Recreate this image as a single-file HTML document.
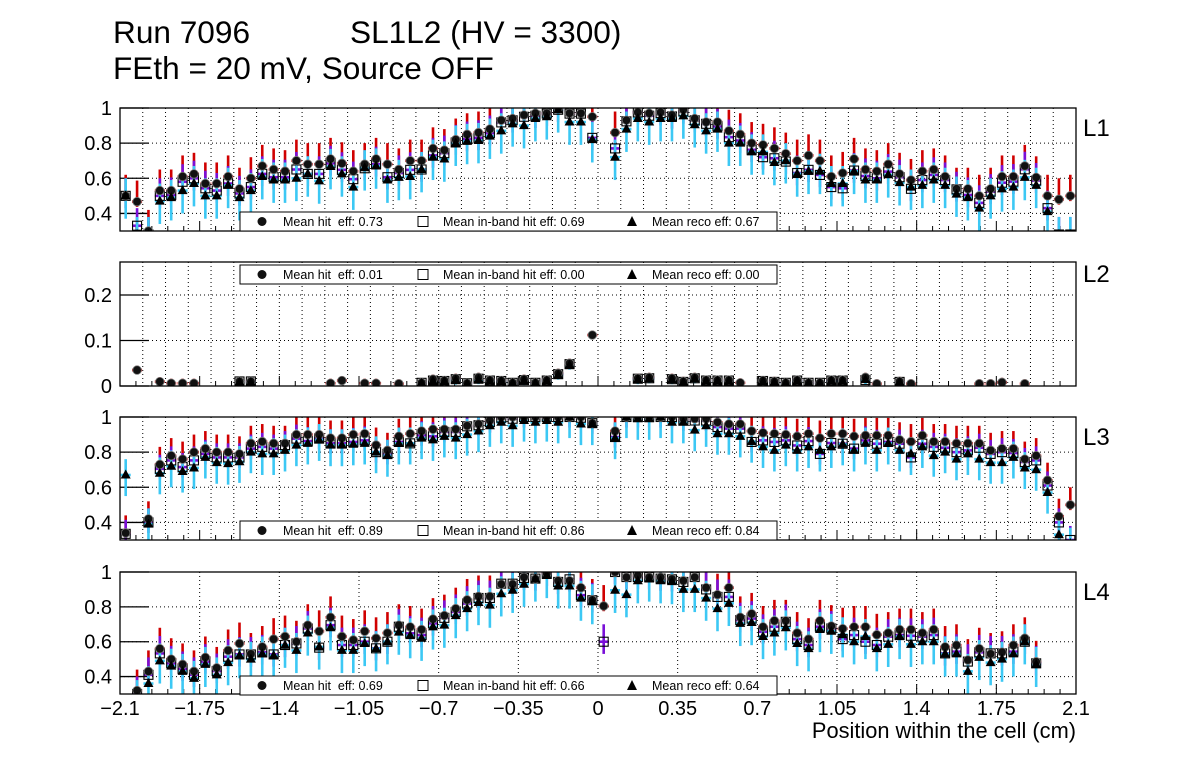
<!DOCTYPE html>
<html><head><meta charset="utf-8"><style>
html,body{margin:0;padding:0;background:#fff;}
svg{display:block;font-family:"Liberation Sans",Arial,sans-serif;}
</style></head><body>
<svg id="chart" width="1196" height="772" viewBox="0 0 1196 772">
<rect x="0" y="0" width="1196" height="772" fill="#fff"/>
<text x="113" y="43" font-size="31.6">Run 7096</text>
<text x="350" y="43" font-size="31.6">SL1L2 (HV = 3300)</text>
<text x="113" y="79" font-size="31.6">FEth = 20 mV, Source OFF</text>
<text x="1076" y="738" font-size="21.8" text-anchor="end">Position within the cell (cm)</text>
<g id="root"></g>
</svg>
<script>
const bins = Array.from({length:84},(_, i)=>-2.075+0.05*i);
const n=null;
const p1Hit=[.50,.467,.30,.53,.53,.61,.625,.57,.57,.61,.54,.60,.67,.65,.64,.70,.68,.68,.71,.685,.64,.68,.71,.68,.65,.70,.70,.77,.76,.82,.85,.86,.88,.93,.94,.96,.97,.97,1.0,.97,.97,.95,n,.86,.93,.975,.97,.975,.96,.99,.94,.92,.92,.87,.85,.80,.79,.77,.74,.70,.73,.70,.61,.63,.71,.65,.64,.68,.625,.59,.64,.65,.61,.54,.54,.50,.54,.61,.61,.67,.605,.50,.48,.50];
const p1Inb=[.50,.33,.28,.50,.505,.58,.60,.543,.53,.57,.514,.55,.625,.606,.606,.65,.625,.625,.685,.648,.595,.657,.68,.606,.63,.648,.65,.73,.743,.804,.823,.83,.857,.918,.93,.95,.956,.968,.99,.968,.968,.83,n,.77,.924,.975,.956,.971,.952,.981,.93,.91,.895,.834,.815,.762,.72,.714,.695,.63,.648,.619,.55,.543,.644,.613,.60,.638,.606,.54,.59,.619,.59,.537,.505,.46,.524,.575,.581,.651,.587,.43,.28,.28];
const p1Reco=[.50,.28,.28,.47,.49,.53,.57,.50,.50,.56,.49,.53,.61,.59,.59,.60,.625,.585,.667,.625,.55,.66,.67,.59,.605,.61,.65,.72,.71,.80,.81,.815,.84,.87,.91,.90,.94,.95,.99,.92,.92,.82,n,.72,.88,.94,.92,.94,.94,.955,.905,.87,.88,.80,.80,.75,.75,.69,.70,.625,.64,.64,.57,.57,.64,.59,.59,.62,.575,.55,.56,.59,.56,.51,.49,.43,.50,.54,.55,.605,.56,.41,.28,.28];
const p2Hit=[n,.035,n,.0095,.006,.006,.006,n,n,n,.01,.01,n,n,n,n,n,n,.006,.012,n,.006,.006,n,.005,n,.007,.015,.012,.017,.006,.019,.013,.012,.007,.015,.007,.013,.028,.05,n,.112,n,n,n,.017,.019,n,.017,.01,.019,.013,.013,.013,.007,n,.012,.01,.007,.013,.007,.007,.013,.013,n,.019,.005,n,.01,.005,n,n,n,n,n,.005,.005,.008,n,.005,n,n,n,n];
const p2Inb=[n,n,n,n,n,n,n,n,n,n,.01,.01,n,n,n,n,n,n,n,n,n,n,n,n,n,n,.007,.012,.011,.015,.006,.016,.012,.011,.007,.013,.007,.012,.026,.048,n,n,n,n,n,.016,.017,n,.015,.009,.017,.012,.012,.012,n,n,.011,.009,.007,.012,.007,.007,.012,.012,n,.013,n,n,.009,n,n,n,n,n,n,n,n,n,n,n,n,n,n,n];
const p2Reco=[n,n,n,n,n,n,n,n,n,n,.008,.008,n,n,n,n,n,n,n,n,n,n,n,n,n,n,.006,.011,.01,.013,.005,.014,.011,.01,.006,.012,.006,.011,.024,.046,n,n,n,n,n,.014,.016,n,.014,.008,.016,.011,.011,.011,n,n,.01,.008,.006,.011,.006,.006,.011,.011,n,.014,n,n,.008,n,n,n,n,n,n,n,n,n,n,n,n,n,n,n];
const p3Hit=[.34,n,.42,.73,.78,.76,.80,.82,.80,.80,.79,.85,.86,.85,.85,.90,.90,.90,.88,.88,.90,.905,.84,.81,.89,.905,.92,.93,.93,.93,.95,.96,.98,1.0,1.0,1.0,1.0,1.0,1.0,1.0,1.0,.965,n,.92,1.0,1.0,1.0,1.0,1.0,.99,.99,.99,.97,.96,.96,.92,.91,.905,.90,.89,.905,.88,.905,.905,.89,.895,.895,.895,.87,.86,.895,.86,.86,.85,.85,.85,.81,.82,.82,.76,.78,.64,.435,.50];
const p3Inb=[.335,n,.40,.705,.753,.715,.753,.79,.77,.77,.77,.82,.83,.82,.84,.877,.863,.877,.85,.85,.858,.867,.80,.79,.858,.85,.896,.89,.915,.915,.947,.953,.971,.996,.99,1.0,1.0,1.0,1.0,1.0,.996,.965,n,.886,1.0,1.0,1.0,1.0,1.0,.98,.98,.98,.943,.934,.934,.858,.867,.858,.867,.838,.863,.79,.852,.848,.82,.867,.848,.858,.848,.77,.848,.83,.825,.80,.81,.825,.79,.80,.795,.744,.753,.61,.40,.30];
const p3Reco=[.67,n,.39,.68,.72,.69,.71,.77,.74,.735,.745,.80,.79,.79,.81,.84,.85,.87,.84,.84,.845,.85,.80,.78,.85,.85,.88,.87,.89,.88,.90,.92,.95,.97,.95,.98,.97,.98,.97,1.0,.96,.96,n,.88,1.0,.99,.99,1.0,.97,.97,.925,.95,.905,.905,.89,.86,.83,.81,.84,.81,.83,.81,.83,.845,.81,.85,.81,.85,.81,.79,.83,.78,.80,.76,.79,.76,.74,.74,.77,.71,.70,.57,.33,.28];
const p4Hit=[n,.32,.43,.56,.50,.47,.43,.51,.45,.55,.59,.53,.57,.615,.63,.60,.695,.66,.74,.63,.61,.66,.62,.65,.695,.685,.67,.73,.75,.79,.84,.86,.86,.93,.93,.97,.96,.99,.95,.95,.91,.84,.805,1.0,.97,.98,.97,.97,.96,.95,.97,.91,.87,.91,.74,.76,.685,.72,.72,.65,.615,.72,.69,.675,.685,.685,.64,.65,.67,.67,.65,.67,.57,.58,.495,.56,.53,.54,.58,.62,.485,n,n,n];
const p4Inb=[n,.30,.41,.533,.476,.444,.41,.486,.432,.514,.527,.527,.539,.527,.581,.59,.676,.566,.695,.581,.581,.60,.562,.60,.686,.648,.638,.705,.737,.771,.819,.851,.851,.933,.933,.966,.962,.99,.943,.958,.867,.838,.60,1.0,.971,.971,.971,.962,.958,.943,.971,.90,.857,.857,.724,.733,.657,.686,.714,.615,.581,.686,.676,.615,.638,.60,.581,.629,.638,.634,.629,.638,.533,.543,.486,.539,.533,.533,.543,.60,.476,n,n,n];
const p4Reco=[n,.28,.36,.49,.46,.43,.39,.47,.41,.48,.52,.50,.53,.52,.58,.55,.65,.57,.68,.55,.55,.59,.56,.60,.655,.635,.62,.685,.695,.75,.79,.825,.81,.875,.895,.93,.96,.98,.92,.92,.85,.83,.28,.895,.87,.95,.96,.95,.945,.90,.90,.85,.79,.82,.705,.71,.63,.65,.68,.59,.56,.67,.66,.64,.60,.63,.56,.585,.63,.585,.60,.60,.53,.53,.43,.51,.48,.50,.53,.60,.47,n,n,n];
const xTickLabels=["\u22122.1","\u22121.75","\u22121.4","\u22121.05","\u22120.7","\u22120.35","0","0.35","0.7","1.05","1.4","1.75","2.1"];
const xTickValues=[-2.1,-1.75,-1.4,-1.05,-0.7,-0.35,0,0.35,0.7,1.05,1.4,1.75,2.1];
const layerNames=["L1","L2","L3","L4"];
const meanHit=["0.73","0.01","0.89","0.69"];
const meanInb=["0.69","0.00","0.86","0.66"];
const meanReco=["0.67","0.00","0.84","0.64"];

const NS="http://www.w3.org/2000/svg";
const root=document.getElementById('root');
const X0=120,X1=1076;
function sx(v){return X0+(v+2.1)/4.2*(X1-X0);}
function mk(tag,attrs,parent){const e=document.createElementNS(NS,tag);for(const k in attrs)e.setAttribute(k,attrs[k]);(parent||root).appendChild(e);return e;}

const panels=[
 {top:108,bot:231,ymin:0.3,ymax:1.0,yt:[0.4,0.6,0.8,1.0],yl:["0.4","0.6","0.8","1"],hit:p1Hit,inb:p1Inb,reco:p1Reco,legY:212,grid:0.1,err:[.12,.03,.10,.07,.10,.13]},
 {top:262,bot:386,ymin:0,ymax:0.2725,yt:[0,0.1,0.2],yl:["0","0.1","0.2"],hit:p2Hit,inb:p2Inb,reco:p2Reco,legY:265,grid:0.1,err:[.01,.006,.005,.004,.01,.01]},
 {top:417,bot:540,ymin:0.3,ymax:1.0,yt:[0.4,0.6,0.8,1.0],yl:["0.4","0.6","0.8","1"],hit:p3Hit,inb:p3Inb,reco:p3Reco,legY:521,grid:0.1,err:[.10,.03,.08,.06,.09,.12]},
 {top:572,bot:694,ymin:0.3,ymax:1.0,yt:[0.4,0.6,0.8,1.0],yl:["0.4","0.6","0.8","1"],hit:p4Hit,inb:p4Inb,reco:p4Reco,legY:676,grid:0.35,err:[.12,.03,.10,.07,.10,.13]}
];

panels.forEach((p,pi)=>{
  const g=mk('g',{});
  
  
  const sy=v=>p.bot-(v-p.ymin)/(p.ymax-p.ymin)*(p.bot-p.top);
  const cid='clip'+pi;
  const cp=mk('clipPath',{id:cid},g);
  mk('rect',{x:X0,y:p.top,width:X1-X0,height:p.bot-p.top},cp);
  const nG=Math.round(4.2/p.grid);
  for(let k=1;k<nG;k++){const v=-2.1+k*p.grid;
    const gv=p.grid===0.1?Math.round(v*10)/10:v; if(gv<=-2.1+1e-6||gv>=2.1-1e-6)continue;
    mk('line',{x1:sx(gv),x2:sx(gv),y1:p.top,y2:p.bot,stroke:'#000','stroke-width':1,'stroke-dasharray':'1,3'},g);}
  p.yt.forEach((v,k)=>{const y=sy(v);
    if(y>p.top+1&&y<p.bot-1){mk('line',{x1:X0,x2:X1,y1:y,y2:y,stroke:'#000','stroke-width':1,'stroke-dasharray':'1,3'},g);}
    mk('line',{x1:X0,x2:X0+29,y1:y,y2:y,stroke:'#000','stroke-width':1.3},g);
    const t=mk('text',{x:112,y:y+7,'font-size':20,'text-anchor':'end'},g);t.textContent=p.yl[k];
    
    
  });
  for(let k=0;k<=60;k++){const v=-2.1+k*0.07;const major=k%5===0;
    mk('line',{x1:sx(v),x2:sx(v),y1:p.bot,y2:p.bot-(major?10:5),stroke:'#000','stroke-width':1},g);}
  const data=mk('g',{'clip-path':'url(#'+cid+')'},g);
  const hx=0.022;
  const [hu,hd,iu,idn,ru,rd]=p.err;
  const drawErr=(arr,col,up,dn,w)=>arr.forEach((v,i)=>{if(v===null)return;const x=sx(bins[i]);
    mk('line',{x1:x,x2:x,y1:sy(Math.min(v+up,p.ymax+1)),y2:sy(v-dn),stroke:col,'stroke-width':w},data);
    mk('line',{x1:sx(bins[i]-hx),x2:sx(bins[i]+hx),y1:sy(v),y2:sy(v),stroke:col,'stroke-width':w},data);});
  drawErr(p.hit,'#d00000',hu,hd,2.6);
  drawErr(p.inb,'#7a10d8',iu,idn,2.6);
  drawErr(p.reco,'#3cc8f4',ru,rd,2.6);
  p.inb.forEach((v,i)=>{if(v===null)return;const x=sx(bins[i]),y=sy(v);
    const r=mk('rect',{x:x-4.5,y:y-4.5,width:9,height:9,fill:'none',stroke:'#000','stroke-width':1.1},data);
    
    });
  p.hit.forEach((v,i)=>{if(v===null)return;const x=sx(bins[i]),y=sy(v);
    const c=mk('circle',{cx:x,cy:y,r:4.3,fill:'#111',stroke:'#777','stroke-width':0.8},data);
    
    });
  p.reco.forEach((v,i)=>{if(v===null)return;const x=sx(bins[i]),y=sy(v);
    const t=mk('polygon',{points:`${x},${y-5.5} ${x-5},${y+3.5} ${x+5},${y+3.5}`,fill:'#000'},data);
    
    });
  mk('rect',{x:X0,y:p.top,width:X1-X0,height:p.bot-p.top,fill:'none',stroke:'#000','stroke-width':1.3},g);
  const lg=mk('g',{},g);
  
  
  const ly=p.legY;
  mk('rect',{x:240,y:ly,width:537,height:19,fill:'#fff',stroke:'#000','stroke-width':1},lg);
  mk('circle',{cx:262,cy:ly+9.5,r:4.5,fill:'#111'},lg);
  mk('rect',{x:418,y:ly+4.5,width:10,height:10,fill:'none',stroke:'#000','stroke-width':1},lg);
  mk('polygon',{points:`632,${ly+4} 627,${ly+14} 637,${ly+14}`,fill:'#000'},lg);
  const t1=mk('text',{x:283,y:ly+14,'font-size':12.5},lg);t1.textContent='Mean hit  eff: '+meanHit[pi];t1.style.whiteSpace='pre';
  const t2=mk('text',{x:443,y:ly+14,'font-size':12.5},lg);t2.textContent='Mean in-band hit eff: '+meanInb[pi];
  const t3=mk('text',{x:652,y:ly+14,'font-size':12.5},lg);t3.textContent='Mean reco eff: '+meanReco[pi];
  const ln=mk('text',{x:1083,y:p.top+(pi===1?20:28),'font-size':24},g);ln.textContent=layerNames[pi];
  
  
});
xTickLabels.forEach((s,k)=>{const t=mk('text',{x:sx(xTickValues[k]),y:715,'font-size':20,'text-anchor':'middle'});t.textContent=s;
  
  });
</script>
</body></html>
